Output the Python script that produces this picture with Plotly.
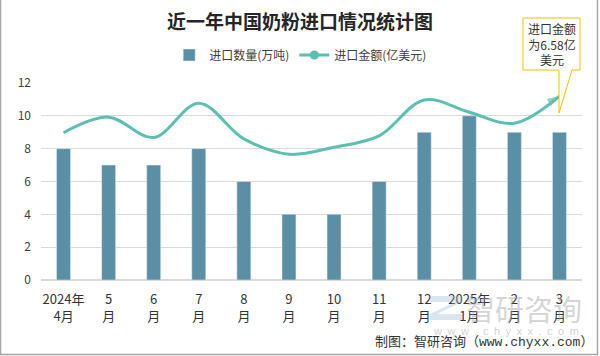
import plotly.graph_objects as go

# ---- data ----
months = ["2024年<br>4月", "5<br>月", "6<br>月", "7<br>月", "8<br>月", "9<br>月",
          "10<br>月", "11<br>月", "12<br>月", "2025年<br>1月", "2<br>月", "3<br>月"]
volume = [8, 7, 7, 8, 6, 4, 4, 6, 9, 10, 9, 9]  # 进口数量(万吨)
amount = [8.97, 9.92, 8.68, 10.77, 8.6, 7.66, 8.09, 8.78, 10.97, 10.22, 9.55, 11.2]  # 进口金额 line position
y_ticks = [0, 2, 4, 6, 8, 10, 12]

BAR_C = "#5b8fa6"
LINE_C = "#5cbfb4"
CJK = "Noto Sans CJK SC"

# plot area geometry (pixels)
L, R, T, B = 41, 18, 83, 76
W, H = 600, 356
PW, PH = W - L - R, H - T - B


def px(x):
    return (x - L) / PW


def py(y):
    return (H - B - y) / PH


fig = go.Figure()
fig.add_trace(go.Bar(x=months, y=volume, name="进口数量(万吨)", marker_color=BAR_C,
                     width=0.31, showlegend=True))

n = len(amount)
symbols = ["circle"] + ["circle"] * (n - 2) + ["arrow"]
sizes = [9] + [0] * (n - 2) + [13]
fig.add_trace(go.Scatter(x=months, y=amount, mode="lines+markers", name="进口金额(亿美元)",
                         line=dict(color=LINE_C, width=3, shape="spline", smoothing=1.0),
                         marker=dict(color=LINE_C, symbol=symbols, size=sizes,
                                     angleref="previous", line=dict(width=0)),
                         showlegend=False))
# legend entry for the line series
fig.add_trace(go.Scatter(x=[None], y=[None], mode="lines+markers", name="进口金额(亿美元)",
                         line=dict(color=LINE_C, width=3),
                         marker=dict(color=LINE_C, symbol="circle", size=9)))

shapes = []
# frame (left, right, bottom)
for (x0, y0, x1, y1) in [(0.5, 0, 0.5, 355), (597.5, 0, 597.5, 355), (0, 354.5, 598, 354.5)]:
    shapes.append(dict(type="line", xref="paper", yref="paper", x0=px(x0), y0=py(y0),
                       x1=px(x1), y1=py(y1), line=dict(color="#a6a6a6", width=1.5)))

# callout box
pts = [(523, 18), (580, 18), (580, 70), (572, 70), (559, 113), (559, 70), (523, 70)]
path = "M " + " L ".join(f"{px(x):.5f},{py(y):.5f}" for x, y in pts) + " Z"
shapes.append(dict(type="path", xref="paper", yref="paper", path=path,
                   fillcolor="white", line=dict(color="#f5c000", width=1)))

# watermark logo blocks
shapes.append(dict(type="rect", xref="paper", yref="paper", x0=px(430), x1=px(462),
                   y0=py(296), y1=py(302), fillcolor="rgba(150,180,210,0.35)", line_width=0))
shapes.append(dict(type="rect", xref="paper", yref="paper", x0=px(430), x1=px(462),
                   y0=py(314), y1=py(320), fillcolor="rgba(150,180,210,0.35)", line_width=0))
shapes.append(dict(type="path", xref="paper", yref="paper",
                   path=f"M {px(455):.5f},{py(302):.5f} L {px(462):.5f},{py(302):.5f} L {px(437):.5f},{py(314):.5f} L {px(430):.5f},{py(314):.5f} Z",
                   fillcolor="rgba(150,180,210,0.35)", line_width=0))

annotations = [
    dict(text="进口金额<br>为6.58亿<br>美元", xref="paper", yref="paper", x=px(551.5), y=py(44),
         xanchor="center", yanchor="middle", showarrow=False,
         font=dict(family=CJK, size=12, color="#333333")),
    dict(text="智研咨询", xref="paper", yref="paper", x=px(524), y=py(308),
         xanchor="center", yanchor="middle", showarrow=False,
         font=dict(family=CJK, size=29, color="rgba(160,160,160,0.45)")),
    dict(text="\u2002".join("www.chyxx.com"), xref="paper", yref="paper", x=px(506), y=py(331),
         xanchor="center", yanchor="middle", showarrow=False,
         font=dict(family="Liberation Sans", size=11, color="rgba(160,160,160,0.5)")),
    dict(text="制图：智研咨询（www.chyxx.com）", xref="paper", yref="paper", x=px(595), y=py(342),
         xanchor="right", yanchor="middle", showarrow=False,
         font=dict(family="Liberation Mono, " + CJK, size=13, color="#333333")),
]

fig.update_layout(
    width=W, height=H,
    margin=dict(l=L, r=R, t=T, b=B, pad=0),
    paper_bgcolor="white", plot_bgcolor="white",
    title=dict(text="<b>近一年中国奶粉进口情况统计图</b>", x=0.5, xref="container",
               y=1 - 22 / H, yref="container", xanchor="center", yanchor="middle",
               font=dict(family=CJK, size=19, color="#262626")),
    legend=dict(orientation="h", x=0.48, xanchor="center", y=py(55), yanchor="middle",
                font=dict(family=CJK, size=12, color="#404040"), bgcolor="rgba(0,0,0,0)",
                itemwidth=30, traceorder="normal"),
    xaxis=dict(type="category", range=[-0.5, len(months) - 0.5], showgrid=False,
               showline=False, ticks="", ticklabelstandoff=10,
               tickfont=dict(family=CJK, size=13, color="#333333")),
    yaxis=dict(range=[0, 12], tickvals=y_ticks, showgrid=True, gridcolor="#d9d9d9",
               gridwidth=1, zeroline=True, zerolinecolor="#d9d9d9", showline=False, ticks="",
               tickfont=dict(family=CJK, size=12, color="#404040"), ticklabelstandoff=9),
    shapes=shapes,
    annotations=annotations,
    showlegend=True,
    bargap=0.69,
)

fig.write_html("out.html", config={"displayModeBar": False},
               post_script="document.body.style.margin='0';")
